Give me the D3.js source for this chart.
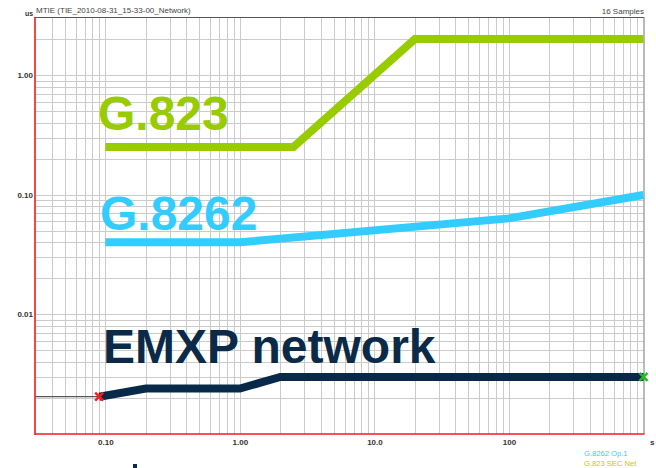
<!DOCTYPE html>
<html>
<head>
<meta charset="utf-8">
<script src="https://cdn.jsdelivr.net/npm/d3@7"></script>
<style>
  html, body { margin: 0; padding: 0; background: #fff; }
  svg { display: block; font-family: "Liberation Sans", Arial, sans-serif; }
</style>
</head>
<body>
<svg id="chart" width="656" height="468"></svg>
<script>
// Observation intervals (s) and MTIE values (us) for each curve
const g823Tau = [0.1, 2.5, 20, 1000];
const g823Mtie = [0.25, 0.25, 2, 2];

const g8262Tau = [0.1, 1, 100, 1000];
const g8262Mtie = [0.04, 0.04, 0.0634, 0.0995];

const emxpTau = [0.09, 0.2, 1, 2, 1000];
const emxpMtie = [0.00205, 0.0024, 0.0024, 0.003, 0.003];

const leadTau = [0.03, 0.09];
const leadMtie = [0.00205, 0.00205];

const xTickValues = [0.1, 1, 10, 100];
const xTickLabels = ["0.10", "1.00", "10.0", "100"];
const yTickValues = [0.01, 0.1, 1];
const yTickLabels = ["0.01", "0.10", "1.00"];

const bigLabels = ["G.823", "G.8262", "EMXP network"];
const legendLabels = ["G.8262 Op.1", "G.823 SEC Net"];

(function draw() {
const svg = d3.select("#chart");
const pL = 35, pR = 643.5, pT = 18, pB = 434;

const x = d3.scaleLog().domain([0.03, 1000]).range([pL, pR]);
const y = d3.scaleLog().domain([0.001, 3]).range([pB, pT]);

// grid: every 1..9 multiple of each decade
const xGrid = [];
for (let d = 0.01; d <= 1000; d *= 10) for (let m = 1; m <= 9; m++) {
  const v = +(d * m).toPrecision(3);
  if (v > 0.03 && v < 1000) xGrid.push(v);
}
const yGrid = [];
for (let d = 0.001; d <= 1; d *= 10) for (let m = 1; m <= 9; m++) {
  const v = +(d * m).toPrecision(3);
  if (v > 0.001 && v < 3) yGrid.push(v);
}

const grid = svg.append("g").attr("stroke", "#cbcbcb").attr("stroke-width", 1);
grid.selectAll("line.v").data(xGrid).join("line").attr("class", "v")
  .attr("x1", d => Math.round(x(d)) + 0.5).attr("x2", d => Math.round(x(d)) + 0.5)
  .attr("y1", pT).attr("y2", pB);
grid.selectAll("line.h").data(yGrid).join("line").attr("class", "h")
  .attr("y1", d => Math.round(y(d)) + 0.5).attr("y2", d => Math.round(y(d)) + 0.5)
  .attr("x1", pL).attr("x2", pR);

// frame: grey top/right, red left/bottom
svg.append("line").attr("x1", pL).attr("x2", pR + 0.5).attr("y1", pT - 0.5).attr("y2", pT - 0.5)
  .attr("stroke", "#555").attr("stroke-width", 1);
svg.append("line").attr("x1", pR + 0.5).attr("x2", pR + 0.5).attr("y1", pT - 1).attr("y2", pB)
  .attr("stroke", "#777").attr("stroke-width", 1);

// axes
const xAxis = d3.axisBottom(x).tickValues(xTickValues).tickSize(0)
  .tickFormat((d, i) => xTickLabels[i]);
const yAxis = d3.axisLeft(y).tickValues(yTickValues).tickSize(0)
  .tickFormat((d, i) => yTickLabels[i]);

const gx = svg.append("g").attr("transform", `translate(0,${pB})`).call(xAxis);
gx.select(".domain").remove();
gx.selectAll("text").attr("dy", "0").attr("y", 10.5)
  .attr("font-size", 8).attr("font-weight", "bold").attr("fill", "#333")
  .attr("font-family", "Liberation Sans, Arial, sans-serif");

const gy = svg.append("g").attr("transform", `translate(${pL},0)`).call(yAxis);
gy.select(".domain").remove();
gy.selectAll("text").attr("x", -2).attr("dy", "0.32em")
  .attr("font-size", 8).attr("font-weight", "bold").attr("fill", "#333")
  .attr("font-family", "Liberation Sans, Arial, sans-serif");

svg.append("line").attr("x1", pL).attr("x2", pL).attr("y1", pT - 1).attr("y2", pB + 1)
  .attr("stroke", "#ee1c1c").attr("stroke-width", 1.6);
svg.append("line").attr("x1", pL).attr("x2", pR + 1).attr("y1", pB).attr("y2", pB)
  .attr("stroke", "#ee1c1c").attr("stroke-width", 1.6);

// header texts
svg.append("text").attr("x", 25).attr("y", 16).text("us")
  .attr("font-size", 7).attr("font-weight", "bold").attr("fill", "#333");
svg.append("text").attr("x", 36).attr("y", 12.5).text("MTIE (TIE_2010-08-31_15-33-00_Network)")
  .attr("font-size", 8).attr("fill", "#444");
svg.append("text").attr("x", 644).attr("y", 13.5).attr("text-anchor", "end").text("16 Samples")
  .attr("font-size", 8).attr("fill", "#444");
svg.append("text").attr("x", 650).attr("y", 444.5).text("s")
  .attr("font-size", 8).attr("font-weight", "bold").attr("fill", "#333");

// curves
const line = d3.line().x(d => x(d[0])).y(d => y(d[1]));
const zip = (a, b) => a.map((v, i) => [v, b[i]]);

svg.append("path").datum(zip(leadTau, leadMtie)).attr("d", line)
  .attr("fill", "none").attr("stroke", "#555").attr("stroke-width", 1.2);

const curves = [
  { pts: zip(g823Tau, g823Mtie), color: "#99cc00" },
  { pts: zip(g8262Tau, g8262Mtie), color: "#33ccff" },
  { pts: zip(emxpTau, emxpMtie), color: "#082a48" }
];
svg.selectAll("path.curve").data(curves).join("path")
  .attr("class", "curve")
  .attr("d", d => line(d.pts))
  .attr("fill", "none").attr("stroke", d => d.color)
  .attr("stroke-width", 8).attr("stroke-linejoin", "miter").attr("stroke-linecap", "butt");

// cursor markers at the ends of the measured curve
const marker = (tau, val, color) => {
  const cx = x(tau), cy = y(val), s = 4;
  svg.append("path")
    .attr("d", `M${cx - s},${cy - s}L${cx + s},${cy + s}M${cx - s},${cy + s}L${cx + s},${cy - s}`)
    .attr("stroke", color).attr("stroke-width", 2.5).attr("fill", "none");
};
marker(emxpTau[0], emxpMtie[0], "#ff1a1a");
marker(emxpTau[emxpTau.length - 1], emxpMtie[emxpMtie.length - 1], "#22bb22");

// large curve labels
const bigColors = ["#99cc00", "#33ccff", "#0b2a48"];
const bigPos = [[98, 129.5], [100, 230], [103, 362.5]];
svg.selectAll("text.big").data(bigLabels).join("text")
  .attr("class", "big")
  .attr("x", (d, i) => bigPos[i][0]).attr("y", (d, i) => bigPos[i][1])
  .attr("font-size", 48).attr("font-weight", "bold")
  .attr("fill", (d, i) => bigColors[i])
  .text(d => d);

// legend
const legendColors = ["#33ccff", "#c8c800"];
svg.selectAll("text.legend").data(legendLabels).join("text")
  .attr("class", "legend")
  .attr("x", 584).attr("y", (d, i) => 455.5 + i * 10)
  .attr("font-size", 7.6).attr("fill", (d, i) => legendColors[i])
  .text(d => d);

// small slide mark at the bottom edge
svg.append("rect").attr("x", 133).attr("y", 464).attr("width", 4).attr("height", 4).attr("fill", "#0b2a48");
})();
</script>
</body>
</html>
